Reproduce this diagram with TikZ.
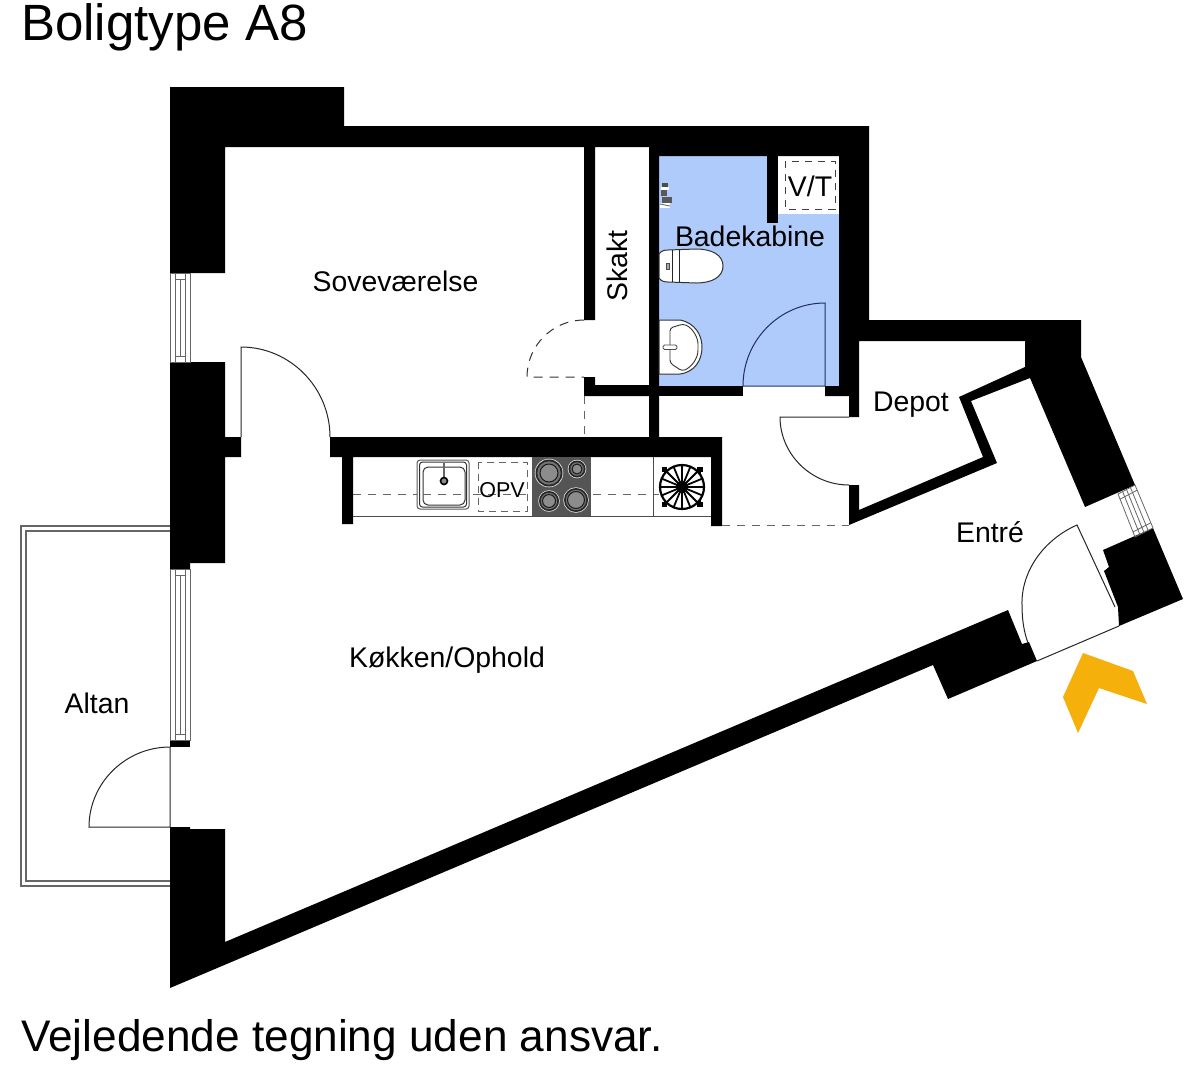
\documentclass[tikz,border=0pt]{standalone}
\usepackage{fontspec}
\setmainfont{Liberation Sans}
\usetikzlibrary{calc}
\definecolor{bathblue}{HTML}{AECBFB}
\definecolor{arroworange}{HTML}{F5B00C}
\definecolor{doorblue}{HTML}{22305A}
\definecolor{hobgray}{HTML}{555555}
\tikzset{
  wall/.style={fill=black,draw=none},
  thinline/.style={draw=black!85,line width=1pt},
  graydash/.style={draw=black!60,line width=1pt,dash pattern=on 8pt off 7pt},
  darkdash/.style={draw=black!80,line width=1pt,dash pattern=on 9pt off 7pt},
  winline/.style={draw=black!60,line width=0.8pt},
  balcony/.style={draw=black!60,line width=1.4pt},
  label/.style={anchor=base,inner sep=0pt,font=\fontsize{28.4}{30}\selectfont,text=black},
  fixture/.style={draw=black!80,fill=white,line width=1pt}
}
\begin{document}
\begin{tikzpicture}[x=1pt,y=-1pt]
\useasboundingbox (0,0) rectangle (1194,1080);
\fill[white] (0,0) rectangle (1194,1080);
% bath floor
\fill[bathblue] (659,156) rectangle (839,386);
\fill[white] (778,156) rectangle (839,214);
% balcony
\draw[balcony] (170,526) -- (21,526) -- (21,886) -- (170,886);
\draw[balcony] (170,531) -- (26,531) -- (26,881) -- (170,881);
% walls
\fill[wall] (170,87) -- (344,87) -- (344,126) -- (869,126) -- (869,320) -- (1081,320) -- (1081,357) -- (1135,485) -- (1085,507) -- (1030,378) -- (971,401) -- (997,463) -- (849,525) -- (849,485) -- (859,485) -- (859,510) -- (983,457) -- (959,397) -- (1025,367) -- (1025,341) -- (859,341) -- (859,417) -- (849,417) -- (849,396) -- (825,396) -- (825,386) -- (839,386) -- (839,156) -- (659,156) -- (659,437) -- (722,437) -- (722,526) -- (711,526) -- (711,457) -- (353,457) -- (353,524) -- (342,524) -- (342,457) -- (330,457) -- (330,437) -- (649,437) -- (649,396) -- (584,396) -- (584,377) -- (595,377) -- (595,385) -- (649,385) -- (649,147) -- (595,147) -- (595,320) -- (584,320) -- (584,147) -- (225,147) -- (225,273) -- (170,273) -- cycle;
\fill[wall] (659,386) rectangle (743,396);
\fill[wall] (767,156) rectangle (778,223);
\fill[wall] (170,362) -- (225,362) -- (225,437) -- (241,437) -- (241,457) -- (225,457) -- (225,563) -- (190,563) -- (190,569) -- (170,569) -- cycle;
\fill[wall] (170,740) rectangle (190,747);
\fill[wall] (170,827) -- (190,827) -- (190,829) -- (225,829) -- (225,942) -- (1008,610) -- (1022,644) -- (1029,642) -- (1037,661) -- (948,699) -- (933,665) -- (170,988) -- cycle;
\fill[wall] (1103,550) -- (1153,528) -- (1183,599) -- (1119,626) -- (1118,607) -- (1104,571) -- (1109,567) -- cycle;
% left windows
\foreach \ya/\yb in {273/362,569/740}{
  \draw[winline] (170.5,\ya) rectangle (190,\yb);
  \draw[winline] (175.5,\ya+6) rectangle (185,\yb-6);
  \draw[winline] (180,\ya+6) -- (180,\yb-6);
  \draw[winline] (175.5,\ya) -- (175.5,\yb);
  \draw[winline] (185,\ya) -- (185,\yb);
}
% entry window
\coordinate (wa) at (1135,485);
\coordinate (wb) at (1153,528);
\coordinate (wc) at (1118,494);
\coordinate (wd) at (1135,537);
\draw[winline] (wa) -- (wb) -- (wd) -- (wc) -- cycle;
\foreach \t in {0.27,0.5,0.73}{
  \draw[winline] ($(wa)!\t!(wc)$) -- ($(wb)!\t!(wd)$);
}
\draw[winline] ($(wa)!0.12!(wb)$) -- ($(wc)!0.12!(wd)$);
\draw[winline] ($(wa)!0.88!(wb)$) -- ($(wc)!0.88!(wd)$);
% doors
\draw[thinline] (241,437) -- (241,347) .. controls (290,347) and (330,387.5) .. (330,437);
\draw[thinline] (170,747) -- (170,827) -- (89,827) .. controls (89,783) and (125.5,747) .. (170,747);
\draw[darkdash] (584,320) .. controls (552.6,320) and (527,345.6) .. (527,377) -- (584,377);
\draw[graydash] (584.5,396) -- (584.5,437);
\draw[draw=doorblue,line width=1pt] (743,386) -- (825,386) -- (825,303) .. controls (780,303) and (743,340) .. (743,386);
\draw[thinline] (849,417) -- (780,417) .. controls (780,454) and (811,485) .. (849,485);
\draw[graydash] (722,525) -- (849,525);
\draw[thinline] (1037,661) -- (1119,626);
\draw[thinline] (1115,607) -- (1077,525) .. controls (1043,540) and (1021,572) .. (1022,605) .. controls (1022,620) and (1024,632) .. (1028,643);
% kitchen
\draw[draw=black!70,line width=1pt] (353,516) -- (711,516);
\draw[graydash] (353,494) -- (711,494);
\draw[draw=black!70,line width=1pt] (653,457) -- (653,516);
\fill[hobgray] (532,457) rectangle (591,516);
\draw[draw=black!65,fill=white,line width=1pt,rounded corners=3pt] (417,460) rectangle (469,509);
\draw[draw=black!80,line width=1pt,rounded corners=3pt] (419.5,462) rectangle (466.5,507);
\draw[draw=black!80,line width=1pt,rounded corners=5pt] (423,467) rectangle (465,505);
\draw[draw=black!60,line width=2.2pt] (444,463) -- (444,478);
\draw[draw=black,fill=black!45,line width=1.6pt] (444,481) circle (3.5);
\draw[graydash] (423,494) -- (465,494);
\draw[draw=black!60,line width=1pt,dash pattern=on 7pt off 5pt] (478,462) rectangle (527,511);
\foreach \bx/\by/\ro/\ri in {549/473/13.5/9,577/469/8.5/5,549/501/10/6.5,576/500/12/8.5}{
  \fill[black!15] (\bx,\by) circle (\ro+0.8);
  \fill[black!85] (\bx,\by) circle (\ro);
  \fill[black!55] (\bx,\by) circle (\ro-1.8);
  \draw[draw=black!90,fill=black!45,line width=1pt] (\bx,\by) circle (\ri);
}
\coordinate (wheel) at (682,487);
\fill[black] (662,467) rectangle (703,507);
\fill[white] (667,459) rectangle (697,470);
\fill[white] (667,504) rectangle (697,515);
\fill[white] (659,472) rectangle (664,502);
\fill[white] (701,472) rectangle (706,502);
\draw[draw=black,fill=white,line width=2.2pt] (wheel) circle (22);
\foreach \a in {0,22.5,...,337.5}{
  \draw[black,line width=1.8pt] (wheel) -- ($(wheel)+(\a:22)$);
}
\fill[black] (wheel) circle (6);
% bath fixtures
\draw[draw=black!75,line width=1pt,dash pattern=on 7pt off 6pt] (785,161) rectangle (835,209);
\draw[fixture] (659,254) .. controls (661,251) and (664,250) .. (668,250) -- (696,249) .. controls (712,249) and (723,255) .. (723,266) .. controls (723,277) and (712,283) .. (696,283) -- (668,282) .. controls (664,282) and (661,281) .. (659,278) -- cycle;
\draw[draw=black!85,line width=0.9pt] (672,250) -- (672,282);
\draw[draw=black!85,line width=0.9pt] (679,250) -- (679,282);
\draw[draw=black!70,fill=black!35,line width=0.8pt] (666.5,263) rectangle (669.5,269);
\draw[fixture] (659,320) -- (680,320) .. controls (695,323) and (702,335) .. (702,347) .. controls (702,360) and (695,372) .. (680,374) -- (659,374) -- cycle;
\draw[draw=black!80,line width=0.9pt,rounded corners=3pt] (670,328) -- (683,324) .. controls (693,328) and (698,338) .. (698,347) .. controls (698,358) and (692,367) .. (682,371) -- (670,363) -- cycle;
\draw[draw=black!70,fill=white,line width=0.9pt,rounded corners=1.5pt] (663,345) rectangle (677,349.5);
\fill[black!70] (662,183) rectangle (668,187);
\fill[white] (661,187) rectangle (669,190);
\fill[black!65] (661,190) rectangle (667,196);
\fill[black!65] (662,197) rectangle (672,203);
\fill[white] (660,203) rectangle (670,208);
\draw[black!60,line width=0.8pt] (660,204) -- (670,206);
% arrow
\fill[arroworange] (1083,653) -- (1133,671) -- (1147,704) -- (1099,688) -- (1078,733) -- (1063,697) -- cycle;
% labels
\node[anchor=base west,inner sep=0pt,font=\fontsize{51}{54}\selectfont,text=black] (title) at (21,40) {Boligtype A8};
\node[anchor=base west,inner sep=0pt,font=\fontsize{44.2}{46}\selectfont,text=black] (note) at (21,1051) {Vejledende tegning uden ansvar.};
\node[label] (sove) at (395.5,291) {Soveværelse};
\node[label] (koekken) at (447,667) {Køkken/Ophold};
\node[label] (altan) at (97,713) {Altan};
\node[label] (entre) at (990,542) {Entré};
\node[label] (depot) at (911,411) {Depot};
\node[label] (bade) at (750,246) {Badekabine};
\node[label,rotate=90] (skakt) at (627,266) {Skakt};
\node[label] (vt) at (810,196) {V/T};
\node[label,font=\fontsize{21.5}{23}\selectfont] (opv) at (502,497) {OPV};
\end{tikzpicture}
\end{document}
